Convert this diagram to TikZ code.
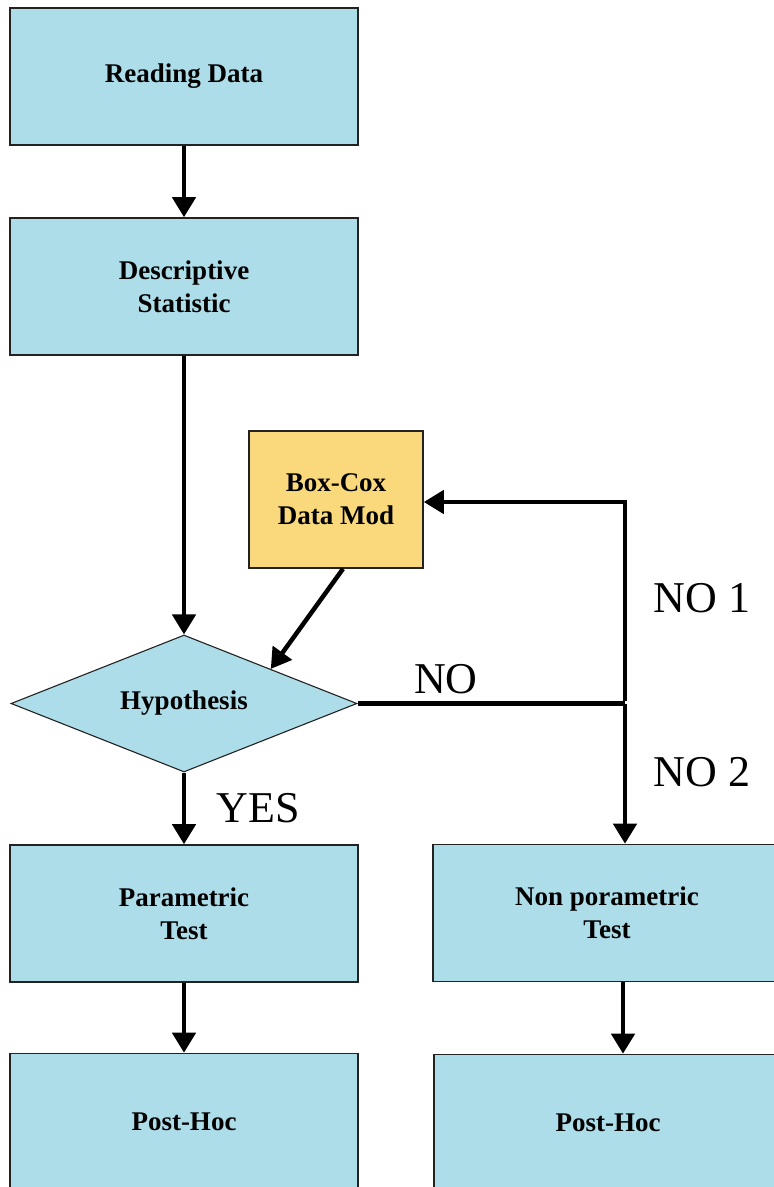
\documentclass[tikz,border=0pt]{standalone}
\usepackage{fontspec}
\setmainfont{Liberation Serif}
\usetikzlibrary{arrows.meta,shapes.geometric,calc}

\definecolor{boxblue}{HTML}{ADDDE9}
\definecolor{boxyellow}{HTML}{F9D97B}
\definecolor{edge}{HTML}{222222}

\tikzset{
  stepbox/.style={draw=edge, line width=1.6pt, fill=boxblue, rectangle,
    minimum width=348pt, minimum height=137pt, inner sep=0pt, align=center,
    font=\fontsize{27}{33}\selectfont\bfseries},
  modbox/.style={stepbox, fill=boxyellow, minimum width=174pt},
  decision/.style={stepbox, diamond, aspect=2.5, minimum width=346pt,
    minimum height=137pt, line width=1.1pt},
  arr/.style={line width=4.5pt, -{Triangle[length=20pt,width=23pt]}},
  plain/.style={line width=4.5pt},
  lbl/.style={font=\fontsize{44}{44}\selectfont, inner sep=0pt}
}

\begin{document}
\begin{tikzpicture}[x=1pt, y=-1pt]
  \useasboundingbox (0,0) rectangle (774,1187);
  \clip (0,0) rectangle (774,1187);
  \fill[white] (0,0) rectangle (774,1187);

  % process boxes
  \node[stepbox] (read) at (184,76.5) {Reading Data};
  \node[stepbox] (desc) at (184,286.5) {Descriptive\\Statistic};
  \node[modbox]  (boxcox) at (336,499.5) {Box-Cox\\Data Mod};
  \node[decision] (hyp) at (184,703.5) {Hypothesis};
  \node[stepbox] (par) at (184,913.5) {Parametric\\Test};
  \node[stepbox] (npar) at (607,913) {Non porametric\\Test};
  \node[stepbox] (ph1) at (184,1122) {Post-Hoc};
  \node[stepbox] (ph2) at (608,1123) {Post-Hoc};

  % branch point of the NO path
  \coordinate (j) at (625,703.5);

  % connectors
  \draw[arr] (read) -- (desc);
  \draw[arr] (desc) -- (hyp.north);
  \draw[arr] ($(boxcox.south)+(7,0)$) -- ($(hyp.north)!0.5!(hyp.east)$);
  \draw[plain] (hyp.east) -- (j);
  \draw[arr] ([yshift=2.25pt]j) |- ([yshift=-2.5pt]boxcox.east);
  \draw[arr] (j) -- (j |- npar.north);
  \draw[arr] (hyp.south) -- (par.north);
  \draw[arr] (par) -- (ph1);
  \draw[arr] ($(npar.south)+(16,0)$) -- ($(ph2.north)+(15,0)$);

  % branch labels
  \node[lbl] (tno) at (446,679) {NO};
  \node[lbl] (tno1) at (702,598) {NO 1};
  \node[lbl] (tno2) at (702,772) {NO 2};
  \node[lbl] (tyes) at (258,808) {YES};
\end{tikzpicture}
\end{document}
